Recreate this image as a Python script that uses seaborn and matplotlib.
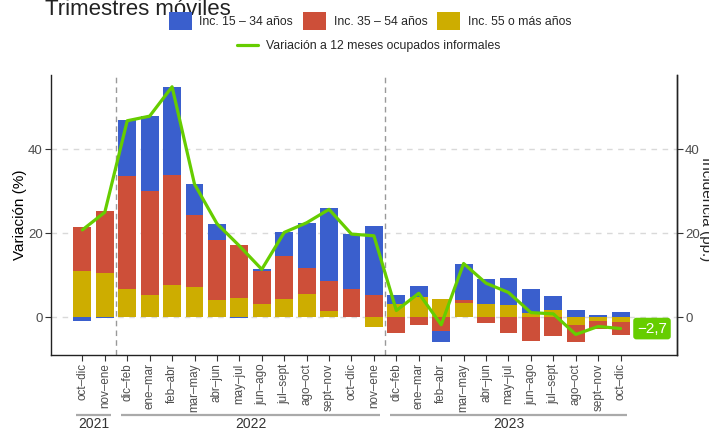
import numpy as np
import pandas as pd
import matplotlib
matplotlib.use("Agg")
import matplotlib.pyplot as plt
from matplotlib.patches import Patch
from matplotlib.lines import Line2D
import seaborn as sns

# ---------------- data ----------------
periods = ["oct–dic", "nov–ene",
           "dic–feb", "ene–mar", "feb–abr", "mar–may", "abr–jun", "may–jul",
           "jun–ago", "jul–sept", "ago–oct", "sept–nov", "oct–dic", "nov–ene",
           "dic–feb", "ene–mar", "feb–abr", "mar–may", "abr–jun", "may–jul",
           "jun–ago", "jul–sept", "ago–oct", "sept–nov", "oct–dic"]
years = ["2021"] * 2 + ["2022"] * 12 + ["2023"] * 11

inc_15_34 = [-0.8, -0.3, 13.3, 17.8, 21.0, 7.3, 3.7, -0.3, 0.6, 5.6, 10.7, 17.3, 13.2,
             16.5, 2.1, 2.7, -2.8, 8.6, 5.9, 6.5, 5.7, 3.3, 1.7, 0.5, 1.3]
inc_35_54 = [10.5, 14.8, 27.0, 24.8, 26.2, 17.2, 14.4, 12.7, 7.7, 10.3, 6.3, 7.1, 6.6,
             5.3, -3.7, -1.8, -3.2, 0.8, -1.3, -3.7, -5.6, -4.4, -4.0, -2.1, -3.0]
inc_55_mas = [11.0, 10.5, 6.7, 5.3, 7.7, 7.2, 4.1, 4.6, 3.2, 4.4, 5.5, 1.5, 0.1,
              -2.3, 3.2, 4.8, 4.4, 3.3, 3.2, 2.9, 1.0, 1.8, -1.8, -0.8, -1.2]
variacion = [20.8, 25.0, 46.8, 47.9, 54.9, 31.7, 22.3, 17.0, 11.4, 20.2, 22.5, 25.7, 19.8,
             19.4, 1.6, 5.7, -1.8, 12.8, 8.1, 5.9, 1.1, 0.8, -4.1, -2.2, -2.7]
last_label = "−2,7"

series_names = ["Inc. 15 – 34 años", "Inc. 35 – 54 años", "Inc. 55 o más años"]
line_name = "Variación a 12 meses ocupados informales"
colors = {"Inc. 15 – 34 años": "#3A5FCD", "Inc. 35 – 54 años": "#CD4F39",
          "Inc. 55 o más años": "#CDAD00"}
line_color = "#66CD00"

# ---------------- figure ----------------
sns.set_theme(style="white")
plt.rcParams["font.family"] = ["Liberation Sans", "DejaVu Sans"]

fig = plt.figure(figsize=(7.09, 4.30), dpi=100)
ax = fig.add_axes([0.0719, 0.1744, 0.8825, 0.6512])

idx = np.arange(len(periods))
yel = np.array(inc_55_mas)
red = np.array(inc_35_54)
blu = np.array(inc_15_34)

pos = lambda a: np.clip(a, 0, None)
neg = lambda a: np.clip(a, None, 0)

# cumulative stacking levels (ggplot-style: positives and negatives stacked separately)
p1 = pos(yel); p2 = p1 + pos(red); p3 = p2 + pos(blu)
n1 = neg(yel); n2 = n1 + neg(red); n3 = n2 + neg(blu)

layers = [(p3, colors[series_names[0]]), (p2, colors[series_names[1]]), (p1, colors[series_names[2]]),
          (n3, colors[series_names[0]]), (n2, colors[series_names[1]]), (n1, colors[series_names[2]])]

# grid lines
for yv in [0, 20, 40]:
    ax.axhline(yv, color="#D9D9D9", lw=1.0, ls=(0, (4, 4)), zorder=0)

for h, c in layers:
    df = pd.DataFrame({"x": idx, "y": h})
    sns.barplot(data=df, x="x", y="y", native_scale=True, color=c, width=0.8,
                errorbar=None, linewidth=0, saturation=1, ax=ax, zorder=1)

for xv in [1.5, 13.5]:
    ax.axvline(xv, color="#999999", lw=1.0, ls=(0, (4, 3)), zorder=1.5)

dfl = pd.DataFrame({"x": idx, "y": variacion})
sns.lineplot(data=dfl, x="x", y="y", color=line_color, lw=2.3, ax=ax, zorder=3)

ax.text(25.4, variacion[-1], last_label, color="white", fontsize=11, ha="center", va="center",
        zorder=4, bbox=dict(boxstyle="round,pad=0.25,rounding_size=0.2", fc=line_color, ec="none"))

ax.set_xlim(-1.4, 26.5)
ax.set_ylim(-9.0, 57.7)
ax.set_xticks(idx)
ax.set_xticklabels(periods, rotation=90, fontsize=8.4, color="#4D4D4D")
ax.set_yticks([0, 20, 40])
ax.set_yticklabels(["0", "20", "40"], fontsize=9.5, color="#4D4D4D")
ax.set_xlabel("")
ax.set_ylabel("Variación (%)", fontsize=11, color="black", labelpad=1)
ax.tick_params(axis="both", length=4, width=0.8, color="#333333", pad=2, bottom=True, left=True)

for s in ["left", "bottom", "right"]:
    ax.spines[s].set_visible(True)
    ax.spines[s].set_color("#222222")
    ax.spines[s].set_linewidth(1.0)
ax.spines["top"].set_visible(False)

ax2 = ax.twinx()
ax2.set_ylim(ax.get_ylim())
ax2.set_yticks([0, 20, 40])
ax2.set_yticklabels(["0", "20", "40"], fontsize=9.5, color="#4D4D4D")
ax2.tick_params(axis="y", length=4, width=0.8, color="#333333", pad=2, right=True)
for s in ["left", "bottom", "top"]:
    ax2.spines[s].set_visible(False)
ax2.spines["right"].set_color("#222222")
ax2.spines["right"].set_linewidth(1.0)
ax2.grid(False)

fig.text(706 / 709, 1 - 209 / 430, "Incidencia (pp.)", rotation=270, fontsize=11,
         ha="center", va="center")

# year brackets
trans = ax.get_xaxis_transform()
groups = {}
for i, yr in enumerate(years):
    groups.setdefault(yr, []).append(i)
for yr, ii in groups.items():
    x0, x1 = min(ii) - 0.28, max(ii) + 0.28
    ax.plot([x0, x1], [-0.215, -0.215], transform=trans, color="#AAAAAA", lw=1.6,
            clip_on=False, solid_capstyle="butt")
    ax.text((min(ii) + max(ii)) / 2, -0.247, yr, transform=trans, ha="center", va="center",
            fontsize=10, color="#333333")

# title (mostly above the canvas, as in the reference)
fig.text(45 / 709, 1 - 15 / 430, "Trimestres móviles", fontsize=16, ha="left",
         va="baseline", color="#222222")

# legends
h1 = [Patch(facecolor=colors[n], edgecolor="none", label=n) for n in series_names]
leg1 = fig.legend(handles=h1, loc="center", bbox_to_anchor=(370 / 709, 1 - 21 / 430), ncol=3,
                  frameon=False, fontsize=8.8, handlelength=1.9, handleheight=1.9,
                  handletextpad=0.6, columnspacing=0.8, borderpad=0)
h2 = [Line2D([0], [0], color=line_color, lw=2.3, label=line_name)]
leg2 = fig.legend(handles=h2, loc="center", bbox_to_anchor=(369 / 709, 1 - 46 / 430),
                  frameon=False, fontsize=8.8, handlelength=1.7, handletextpad=0.7,
                  borderpad=0)

fig.savefig("out.png", dpi=100)
